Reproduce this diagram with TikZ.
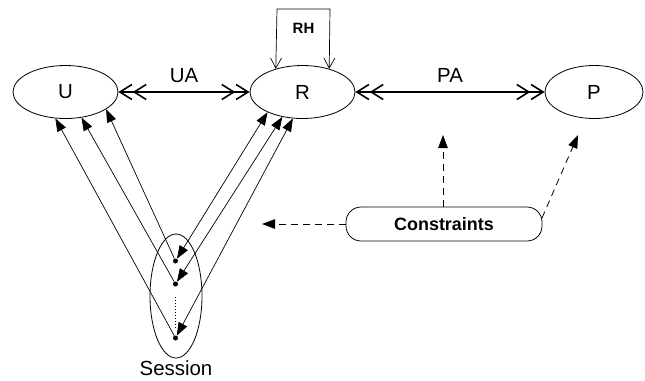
\documentclass[tikz,border=0pt]{standalone}
\usepackage{fontspec}
\setmainfont{Liberation Sans}
\usetikzlibrary{arrows.meta,shapes.geometric}
\begin{document}
\begin{tikzpicture}[x=1bp,y=-1bp,
  actor/.style={draw,ellipse,line width=0.8bp,minimum width=105bp,minimum height=53bp,inner sep=0pt,font=\fontsize{20.5}{20.5}\selectfont},
  assoc/.style={line width=1.6bp,{Straight Barb[length=12bp,width=15bp,sep=0pt]Straight Barb[length=12bp,width=15bp]}-{Straight Barb[length=12bp,width=15bp,sep=0pt]Straight Barb[length=12bp,width=15bp]}},
  lbl/.style={font=\fontsize{20.5}{20.5}\selectfont,inner sep=0pt},
  thin/.style={line width=0.7bp},
  solidtip/.style={-{Triangle[length=13bp,width=9.5bp]}},
  bothtip/.style={{Triangle[length=13bp,width=9.5bp]}-{Triangle[length=13bp,width=9.5bp]}},
  dashtip/.style={line width=0.8bp,dash pattern=on 7bp off 5bp,-{Triangle[length=13bp,width=9.5bp]}},
  dot/.style={circle,fill,inner sep=0pt,minimum size=5bp},
]
\useasboundingbox (0,0) rectangle (645,380);

% roles, users and permissions
\node[actor] (U) at (65.5,92) {U};
\node[actor] (R) at (302.5,92) {R};
\node[actor,minimum width=98bp] (P) at (594,92) {P};

% assignments
\draw[assoc] (U) -- (R) node[lbl,midway,above=9bp] (UA) {UA};
\draw[assoc] (R) -- (P) node[lbl,midway,above=9bp] (PA) {PA};

% role hierarchy loop
\coordinate (rhtl) at (277,9);
\coordinate (rhtr) at (330,9);
\draw[thin,{Straight Barb[length=10bp,width=11bp]}-{Straight Barb[length=10bp,width=11bp]}]
  (R.139) -- (rhtl) -- (rhtr) -- (R.41);
\node[font=\bfseries\fontsize{15}{15}\selectfont] (RH) at (303.5,28) {RH};

% session with its members
\node[draw,ellipse,line width=0.8bp,minimum width=52bp,minimum height=124bp,inner sep=0pt] (S) at (176,296) {};
\node[lbl,anchor=base] (Slbl) at (176,375) {Session};
\node[dot] (d1) at (175.5,261) {};
\node[dot] (d2) at (175.5,284) {};
\node[dot] (d3) at (175.5,338) {};
\coordinate (dtop) at (175.5,297);
\coordinate (dbot) at (175.5,328);
\draw[dotted,line width=1bp] (dtop) -- (dbot);

\draw[thin,solidtip] (d1) -- (U.337);
\draw[thin,solidtip] (d2) -- (U.302);
\draw[thin,solidtip] (d3) -- (U.249);

\draw[thin,bothtip] (d1) -- (R.210);
\draw[thin,bothtip] (d2) -- (R.231);
\draw[thin,bothtip] (d3) -- (R.250);

% constraints
\node[draw,line width=0.8bp,rounded corners=15bp,minimum width=196bp,minimum height=34bp,font=\bfseries\fontsize{18}{18}\selectfont] (C) at (444,224) {Constraints};
\coordinate (cS) at (262,224);
\coordinate (cR) at (443,135);
\coordinate (cP) at (578,135);
\coordinate (ce) at (542,218);
\draw[dashtip] (C.west) -- (cS);
\draw[dashtip] (C.north -| cR) -- (cR);
\draw[dashtip] (ce) -- (cP);
\end{tikzpicture}
\end{document}
